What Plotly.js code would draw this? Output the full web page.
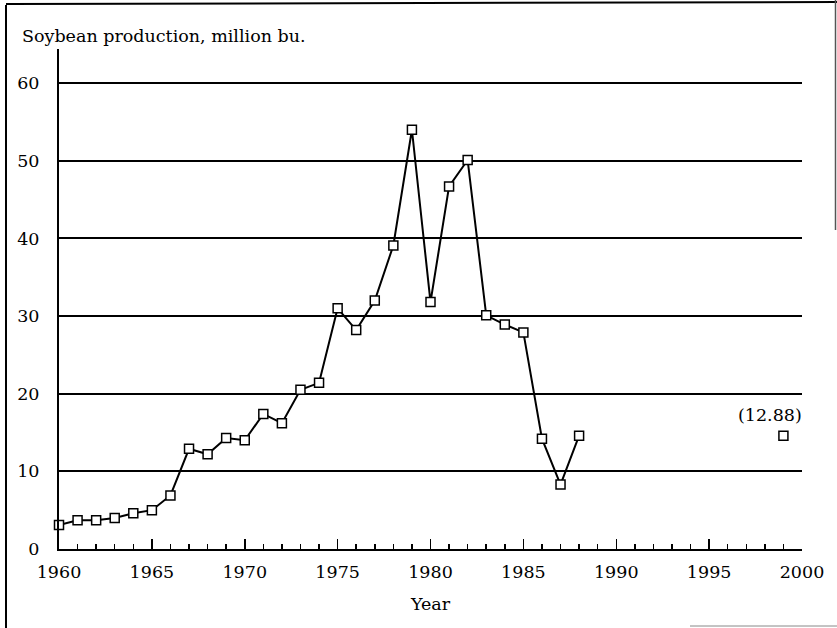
<!DOCTYPE html>
<html>
<head>
<meta charset="utf-8">
<script src="https://cdn.plot.ly/plotly-3.0.1.min.js"></script>
<style>html,body{margin:0;padding:0;background:#fff;}#chart{width:837px;height:628px;}</style>
</head>
<body>
<div id="chart"></div>
<script>
// Data
const years = [1960,1961,1962,1963,1964,1965,1966,1967,1968,1969,1970,1971,1972,1973,1974,1975,1976,1977,1978,1979,1980,1981,1982,1983,1984,1985,1986,1987,1988];
const production = [3.1,3.7,3.7,4.0,4.6,5.0,6.9,12.9,12.2,14.3,14.0,17.4,16.2,20.5,21.4,31.0,28.2,32.0,39.1,54.0,31.8,46.7,50.1,30.1,28.9,27.9,14.2,8.3,14.6];
const projYear = [1999];
const projValue = [14.6];
const projLabel = "(12.88)";
const yTicks = [0,10,20,30,40,50,60];
const xTicks = [1960,1965,1970,1975,1980,1985,1990,1995,2000];

const FONT = "DejaVu Serif, Liberation Serif, serif";

// Plot area geometry (pixels) used to place the scan frame decorations
const L = 59, R = 35, T = 49, B = 79, W = 837, H = 628;
const pw = W - L - R, ph = H - T - B;
const px = x => (x - L) / pw;
const py = y => (H - B - y) / ph;

const traces = [
  {
    x: years, y: production, type: 'scatter', mode: 'lines+markers',
    line: {color: '#000', width: 2},
    marker: {symbol: 'square', size: 9, color: '#fff', line: {color: '#000', width: 1.5}},
    cliponaxis: false, hoverinfo: 'x+y'
  },
  {
    x: projYear, y: projValue, type: 'scatter', mode: 'markers',
    marker: {symbol: 'square', size: 9, color: '#fff', line: {color: '#000', width: 1.5}},
    cliponaxis: false
  }
];

const layout = {
  width: W, height: H,
  margin: {l: L, r: R, t: T, b: B, pad: 0},
  paper_bgcolor: '#fff', plot_bgcolor: '#fff',
  showlegend: false,
  font: {family: FONT, size: 17.5, color: '#000'},
  title: {
    text: 'Soybean production, million bu.',
    font: {family: FONT, size: 17.5, color: '#000'},
    xref: 'container', yref: 'container',
    x: 22 / W, xanchor: 'left',
    y: 1 - 36 / H, yanchor: 'middle'
  },
  xaxis: {
    range: [1960, 2000],
    tickvals: xTicks,
    ticks: 'inside', ticklen: 10, tickwidth: 1.5, tickcolor: '#000',
    minor: {dtick: 1, tick0: 1960, ticks: 'inside', ticklen: 5, tickwidth: 1.5, tickcolor: '#000', showgrid: false},
    showline: true, linecolor: '#000', linewidth: 2,
    showgrid: false, zeroline: false,
    tickfont: {family: FONT, size: 17.5, color: '#000'},
    ticklabelstandoff: 6,
    title: {text: 'Year', font: {family: FONT, size: 17.5, color: '#000'}, standoff: 17},
    fixedrange: true
  },
  yaxis: {
    range: [0, 64.4],
    tickvals: yTicks,
    ticks: '',
    showline: true, linecolor: '#000', linewidth: 2,
    showgrid: true, gridcolor: '#000', gridwidth: 2,
    zeroline: false,
    tickfont: {family: FONT, size: 17.5, color: '#000'},
    ticklabelstandoff: 14,
    fixedrange: true
  },
  annotations: [
    {x: projYear[0], y: projValue[0], xref: 'x', yref: 'y', text: projLabel, showarrow: false,
     xshift: -13, yshift: 21, font: {family: FONT, size: 17.5, color: '#000'}}
  ],
  shapes: [
    // scanned page frame
    {type: 'line', xref: 'paper', yref: 'paper', x0: px(6), x1: px(6), y0: py(5), y1: py(628), line: {color: '#000', width: 2}},
    {type: 'line', xref: 'paper', yref: 'paper', x0: px(6), x1: px(837), y0: py(4), y1: py(2), line: {color: '#000', width: 2}},
    {type: 'line', xref: 'paper', yref: 'paper', x0: px(835.5), x1: px(835.5), y0: py(0), y1: py(230), line: {color: '#555', width: 1.5}},
    {type: 'line', xref: 'paper', yref: 'paper', x0: px(690), x1: px(837), y0: py(626), y1: py(626), line: {color: '#888', width: 1}}
  ]
};

Plotly.newPlot('chart', traces, layout, {displayModeBar: false, staticPlot: true});
</script>
</body>
</html>
